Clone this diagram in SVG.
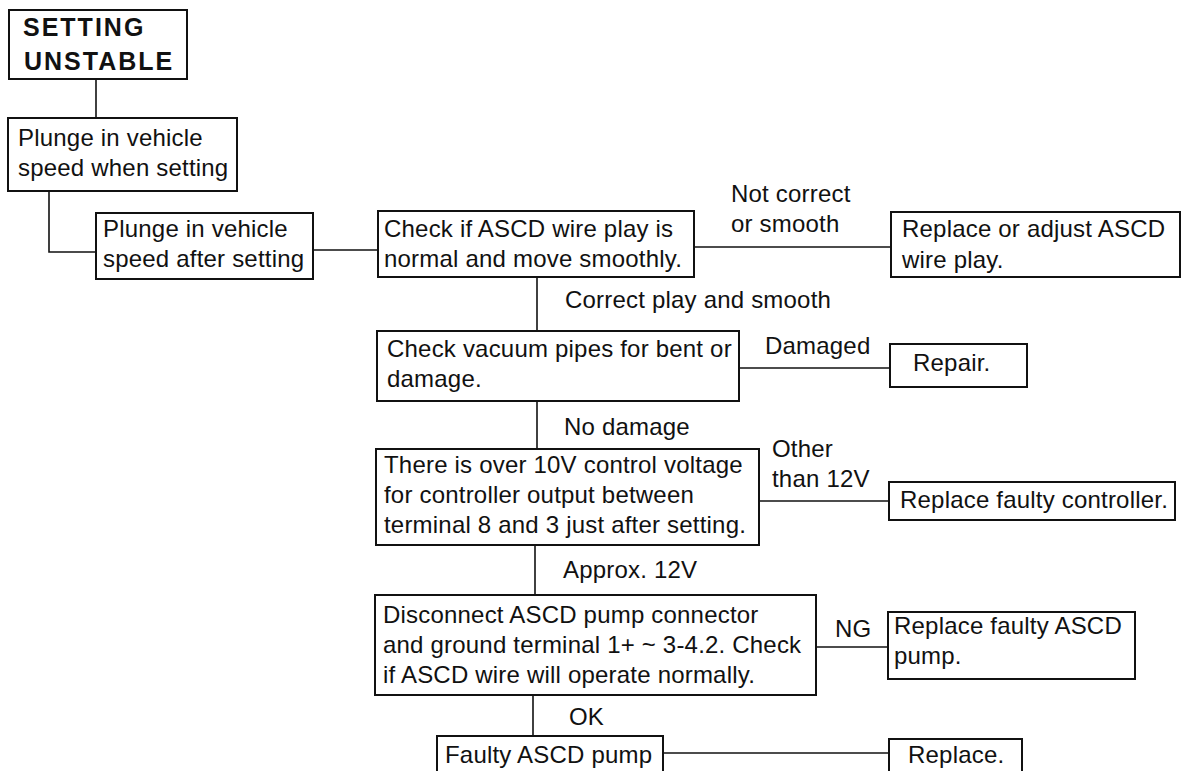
<svg xmlns="http://www.w3.org/2000/svg" width="1189" height="771" viewBox="0 0 1189 771">
<style>
.box{fill:#fff;stroke:#111;stroke-width:2}
.t{font-family:"Liberation Sans",Arial,Helvetica,sans-serif;font-size:24px;letter-spacing:0.2px;fill:#111}
.b{font-family:"Liberation Sans",Arial,Helvetica,sans-serif;font-size:25px;font-weight:bold;letter-spacing:2px;fill:#111}
.c{fill:none;stroke:#111;stroke-width:1.6}
</style>
<rect width="1189" height="771" fill="#fff"/>
<g id="connectors">
<path class="c" d="M96,79 V118"/>
<path class="c" d="M49,191 V252 H96"/>
<path class="c" d="M313,250 H378"/>
<path class="c" d="M694,247 H891"/>
<path class="c" d="M537,277 V331"/>
<path class="c" d="M739,368 H890"/>
<path class="c" d="M537,401 V449"/>
<path class="c" d="M759,501 H889"/>
<path class="c" d="M535,545 V595"/>
<path class="c" d="M816,647 H888"/>
<path class="c" d="M533,695 V736"/>
<path class="c" d="M663,753 H889"/>
</g>
<g id="labels">
<text class="t" x="731" y="202">Not correct</text>
<text class="t" x="731" y="232">or smooth</text>
<text class="t" x="565" y="308">Correct play and smooth</text>
<text class="t" x="765" y="354">Damaged</text>
<text class="t" x="564" y="435">No damage</text>
<text class="t" x="772" y="457">Other</text>
<text class="t" x="772" y="487">than 12V</text>
<text class="t" x="563" y="578">Approx. 12V</text>
<text class="t" x="835" y="637">NG</text>
<text class="t" x="569" y="725">OK</text>
</g>
<g id="n1"><rect class="box" x="9" y="10" width="178" height="69"/>
<text class="b" x="23" y="36">SETTING</text><text class="b" x="24" y="70">UNSTABLE</text></g>
<g id="n2"><rect class="box" x="8" y="118" width="229" height="73"/>
<text class="t" x="18" y="146">Plunge in vehicle</text><text class="t" x="18" y="176">speed when setting</text></g>
<g id="n3"><rect class="box" x="96" y="213" width="217" height="66"/>
<text class="t" x="103" y="237">Plunge in vehicle</text><text class="t" x="103" y="267">speed after setting</text></g>
<g id="n4"><rect class="box" x="378" y="211" width="316" height="66"/>
<text class="t" x="384" y="237">Check if ASCD wire play is</text><text class="t" x="384" y="267">normal and move smoothly.</text></g>
<g id="n5"><rect class="box" x="891" y="212" width="289" height="65"/>
<text class="t" x="902" y="237">Replace or adjust ASCD</text><text class="t" x="902" y="268">wire play.</text></g>
<g id="n6"><rect class="box" x="377" y="331" width="362" height="70"/>
<text class="t" x="387" y="357">Check vacuum pipes for bent or</text><text class="t" x="387" y="387">damage.</text></g>
<g id="n7"><rect class="box" x="890" y="344" width="137" height="43"/>
<text class="t" x="913" y="371">Repair.</text></g>
<g id="n8"><rect class="box" x="376" y="449" width="383" height="96"/>
<text class="t" x="384" y="473">There is over 10V control voltage</text><text class="t" x="384" y="503">for controller output between</text><text class="t" x="384" y="533">terminal 8 and 3 just after setting.</text></g>
<g id="n9"><rect class="box" x="889" y="482" width="286" height="38"/>
<text class="t" x="900" y="508">Replace faulty controller.</text></g>
<g id="n10"><rect class="box" x="375" y="595" width="441" height="100"/>
<text class="t" x="383" y="623">Disconnect ASCD pump connector</text><text class="t" x="383" y="653">and ground terminal 1+ ~ 3-4.2. Check</text><text class="t" x="383" y="683">if ASCD wire will operate normally.</text></g>
<g id="n11"><rect class="box" x="888" y="612" width="247" height="67"/>
<text class="t" x="894" y="634">Replace faulty ASCD</text><text class="t" x="894" y="664">pump.</text></g>
<g id="n12"><rect class="box" x="437" y="736" width="226" height="50"/>
<text class="t" x="445" y="763">Faulty ASCD pump</text></g>
<g id="n13"><rect class="box" x="889" y="739" width="133" height="50"/>
<text class="t" x="908" y="763">Replace.</text></g>
</svg>
